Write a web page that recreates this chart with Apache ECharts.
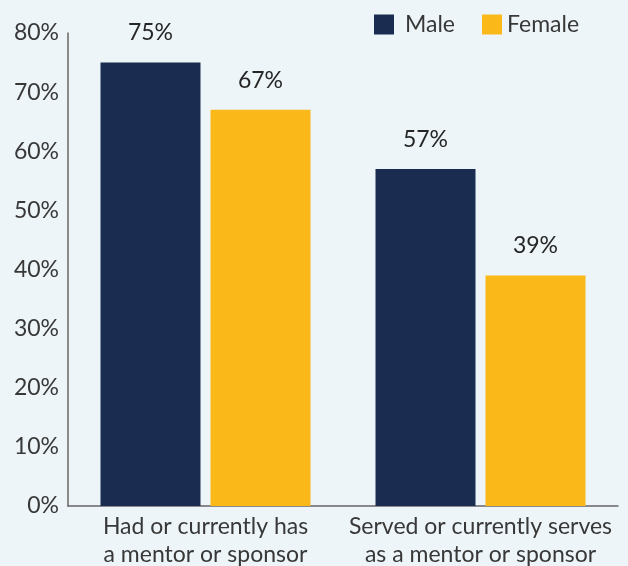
<!DOCTYPE html>
<html><head><meta charset="utf-8">
<script src="https://cdn.jsdelivr.net/npm/echarts@6/dist/echarts.min.js"></script>
<style>html,body{margin:0;padding:0;background:#EDF5F8;}#c{width:628px;height:566px;}</style>
</head><body><div id="c"></div>
<script>
const categories = ['Had or currently has\na mentor or sponsor', 'Served or currently serves\nas a mentor or sponsor'];
const male = [75, 57];
const female = [67, 39];
const yTicks = [0, 10, 20, 30, 40, 50, 60, 70, 80];

const FONT = 'Lato';
const TXT = '#383838';
const chart = echarts.init(document.getElementById('c'), null, {renderer: 'canvas'});
chart.setOption({
  backgroundColor: '#EDF5F8',
  animation: false,
  textStyle: {fontFamily: FONT},
  legend: [
    {data: ['Male'], left: 374, top: 13, padding: 0, itemWidth: 20, itemHeight: 20, icon: 'rect', itemGap: 0,
     textStyle: {fontSize: 23, color: TXT, fontFamily: FONT, padding: [0, 0, 0, 6]}},
    {data: ['Female'], left: 482, top: 13, padding: 0, itemWidth: 20, itemHeight: 20, icon: 'rect', itemGap: 0,
     textStyle: {fontSize: 23, color: TXT, fontFamily: FONT}}
  ],
  grid: {left: 68, right: 10, top: 33, bottom: 60, containLabel: false, outerBoundsMode: 'none'},
  xAxis: {
    type: 'category', data: categories,
    axisLine: {lineStyle: {color: '#666', width: 1.5}},
    axisTick: {show: false},
    axisLabel: {fontSize: 23, color: TXT, fontFamily: FONT, lineHeight: 28, margin: 7, interval: 0}
  },
  yAxis: {
    type: 'value', min: yTicks[0], max: yTicks[yTicks.length - 1], interval: 10,
    axisLine: {show: true, lineStyle: {color: '#666', width: 1.5}},
    axisTick: {show: false},
    splitLine: {show: false},
    axisLabel: {fontSize: 23, color: TXT, fontFamily: FONT, margin: 9, formatter: '{value}%'}
  },
  series: [
    {name: 'Male', type: 'bar', data: male, barWidth: 100, barGap: '10%',
     itemStyle: {color: '#1A2C4F'},
     label: {show: true, position: 'top', distance: 18, formatter: '{c}%', fontSize: 23, color: '#262626', fontFamily: FONT}},
    {name: 'Female', type: 'bar', data: female, barWidth: 100, barGap: '10%',
     itemStyle: {color: '#FBB819'},
     label: {show: true, position: 'top', distance: 18, formatter: '{c}%', fontSize: 23, color: '#262626', fontFamily: FONT}}
  ]
});
</script></body></html>
